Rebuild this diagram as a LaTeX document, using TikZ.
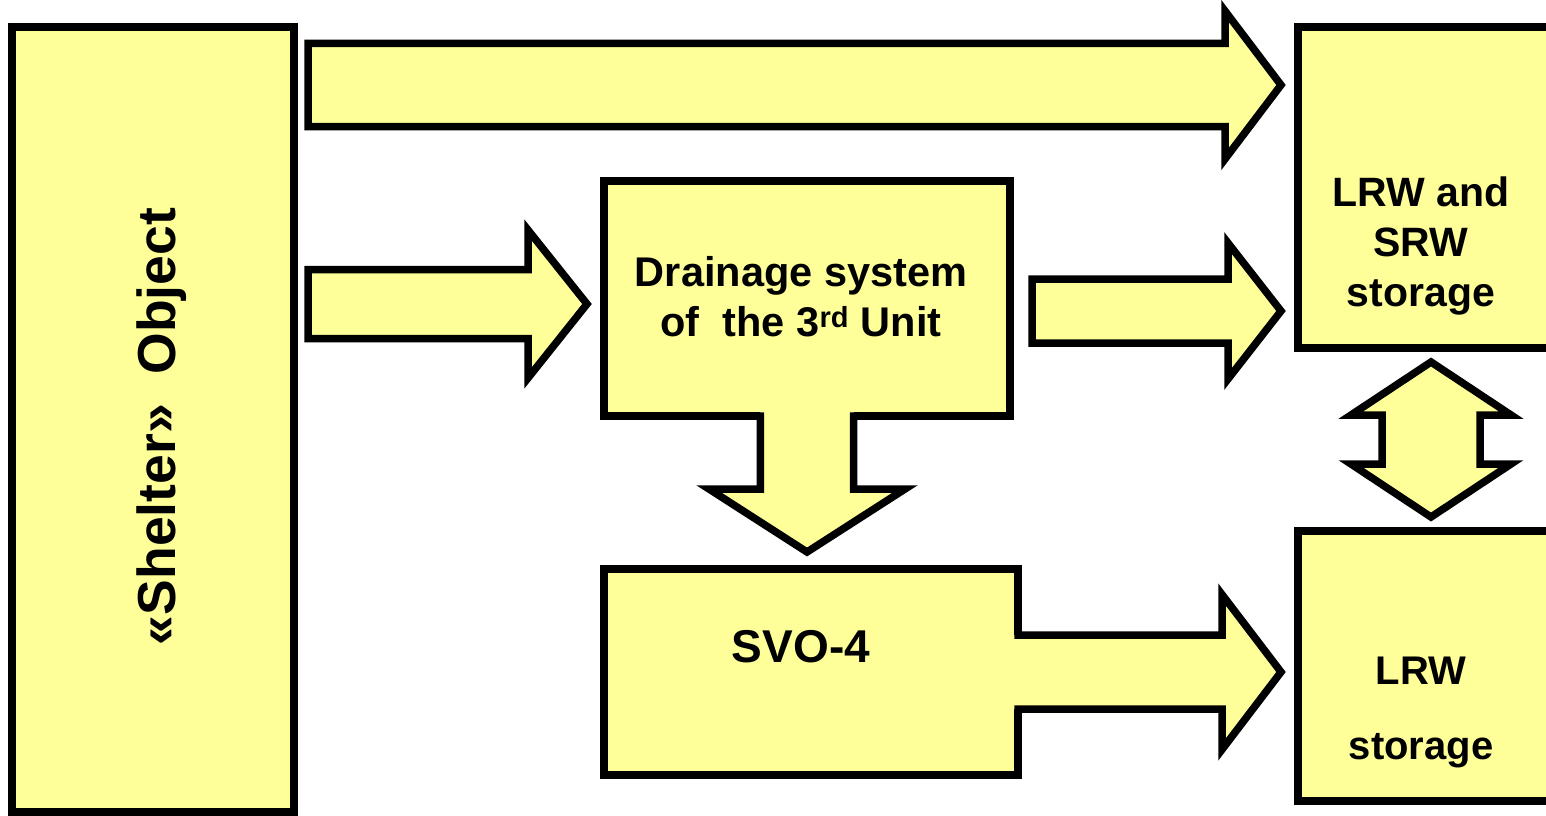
\documentclass[tikz,border=0pt]{standalone}
\usepackage{fontspec}
\setmainfont{Liberation Sans}
\usepackage{tikz}
\usetikzlibrary{positioning,calc}
\definecolor{wastefill}{HTML}{FFFF99}

% block arrow from #1 to tip #2: shaft half width #3, head half width #4, head length #5
\newcommand{\blockarrow}[5]{%
  \coordinate (ba-h) at ($(#2)!#5!(#1)$);
  \filldraw[blockarrow] ($(#1)!#3!90:(#2)$) -- ($(ba-h)!#3!90:(#2)$) -- ($(ba-h)!#4!90:(#2)$) -- (#2)
    -- ($(ba-h)!#4!-90:(#2)$) -- ($(ba-h)!#3!-90:(#2)$) -- ($(#1)!#3!-90:(#2)$) -- cycle;
}
% same, but growing out of a box: no outline across the base
\newcommand{\stemarrow}[5]{%
  \coordinate (ba-h) at ($(#2)!#5!(#1)$);
  \coordinate (ba-b) at ($(#1)!-3pt!(#2)$);
  \fill[wastefill] ($(ba-b)!#3!90:(#2)$) -- ($(ba-h)!#3!90:(#2)$) -- ($(ba-h)!#4!90:(#2)$) -- (#2)
    -- ($(ba-h)!#4!-90:(#2)$) -- ($(ba-h)!#3!-90:(#2)$) -- ($(ba-b)!#3!-90:(#2)$) -- cycle;
  \draw[blockarrow] ($(#1)!#3!90:(#2)$) -- ($(ba-h)!#3!90:(#2)$) -- ($(ba-h)!#4!90:(#2)$) -- (#2)
    -- ($(ba-h)!#4!-90:(#2)$) -- ($(ba-h)!#3!-90:(#2)$) -- ($(#1)!#3!-90:(#2)$);
}
% double headed block arrow between tips #1 and #2
\newcommand{\twinarrow}[5]{%
  \coordinate (ta-a) at ($(#1)!#5!(#2)$);
  \coordinate (ta-b) at ($(#2)!#5!(#1)$);
  \filldraw[blockarrow] (#1) -- ($(ta-a)!#4!90:(#2)$) -- ($(ta-a)!#3!90:(#2)$) -- ($(ta-b)!#3!90:(#2)$)
    -- ($(ta-b)!#4!90:(#2)$) -- (#2) -- ($(ta-b)!#4!-90:(#2)$) -- ($(ta-b)!#3!-90:(#2)$)
    -- ($(ta-a)!#3!-90:(#2)$) -- ($(ta-a)!#4!-90:(#2)$) -- cycle;
}

\begin{document}
\begin{tikzpicture}[x=1pt,y=-1pt,
  box/.style={draw,fill=wastefill,line width=7.5pt,outer sep=0pt,inner sep=0pt,anchor=north west},
  blockarrow/.style={draw,fill=wastefill,line width=7.5pt,miter limit=10},
  txt/.style={font=\bfseries\fontsize{41}{50}\selectfont,align=center}
]
\useasboundingbox (0,0) rectangle (1546,815);
\clip (0,0) rectangle (1546,815);

\node[box,minimum width=282pt,minimum height=785pt] (shelter) at (12,27) {};
\node[box,minimum width=406pt,minimum height=235pt] (drain) at (604,181) {};
\node[box,minimum width=414pt,minimum height=206pt,below=153pt of drain.south west,anchor=north west] (svo) {};
\node[box,minimum width=256pt,minimum height=321pt] (lrwsrw) at (1298,27) {};
\node[box,minimum width=256pt,minimum height=270pt,below=183pt of lrwsrw.south west,anchor=north west] (lrw) {};

% flows
\coordinate (top-s) at ($(shelter.north east)+(14,58)$);
\coordinate (top-t) at ($(lrwsrw.north west)+(-17,58)$);
\blockarrow{top-s}{top-t}{41.7pt}{74pt}{56pt}

\coordinate (in-s) at ($(shelter.east |- drain.west)+(14,5.5)$);
\coordinate (in-t) at ($(drain.west)+(-17,5.5)$);
\blockarrow{in-s}{in-t}{34.5pt}{74pt}{59pt}

\coordinate (up-s) at ($(drain.east)+(22,12.5)$);
\coordinate (up-t) at ($(lrwsrw.west |- drain.east)+(-17,12.5)$);
\blockarrow{up-s}{up-t}{32pt}{68pt}{53pt}

\coordinate (down-s) at ($(drain.south)+(0,-3.75)$);
\coordinate (down-t) at ($(drain.south |- svo.north)+(0,-17)$);
\stemarrow{down-s}{down-t}{46.7pt}{98pt}{63pt}

\coordinate (out-s) at ($(svo.east)+(-3.75,0)$);
\coordinate (out-t) at ($(lrw.west |- svo.east)+(-17,0)$);
\stemarrow{out-s}{out-t}{37pt}{77.5pt}{59pt}

\coordinate (swap-a) at ($(lrwsrw.south)+(5,14)$);
\coordinate (swap-b) at ($(lrw.north)+(5,-14)$);
\twinarrow{swap-a}{swap-b}{49pt}{80pt}{53pt}

% texts
\node[txt,rotate=90,font=\bfseries\fontsize{53.5}{60}\selectfont] (shelter-txt) at ($(shelter.center)+(9,7)$) {«Shelter»~~Object};
\node[txt,font=\bfseries\fontsize{41.5}{50}\selectfont] (drain-txt) at ($(drain.center)+(-6,-2)$) {Drainage system\\of~~the 3\textsuperscript{rd} Unit};
\node[txt,font=\bfseries\fontsize{46}{50}\selectfont] (svo-txt) at ($(svo.center)+(-10,-25)$) {SVO-4};
\node[txt] (lrwsrw-txt) at ($(lrwsrw.center)+(-5,58.5)$) {LRW and\\SRW\\storage};
\node[txt,font=\bfseries\fontsize{40}{75}\selectfont] (lrw-txt) at ($(lrw.center)+(-5,46)$) {LRW\\storage};
\end{tikzpicture}
\end{document}
